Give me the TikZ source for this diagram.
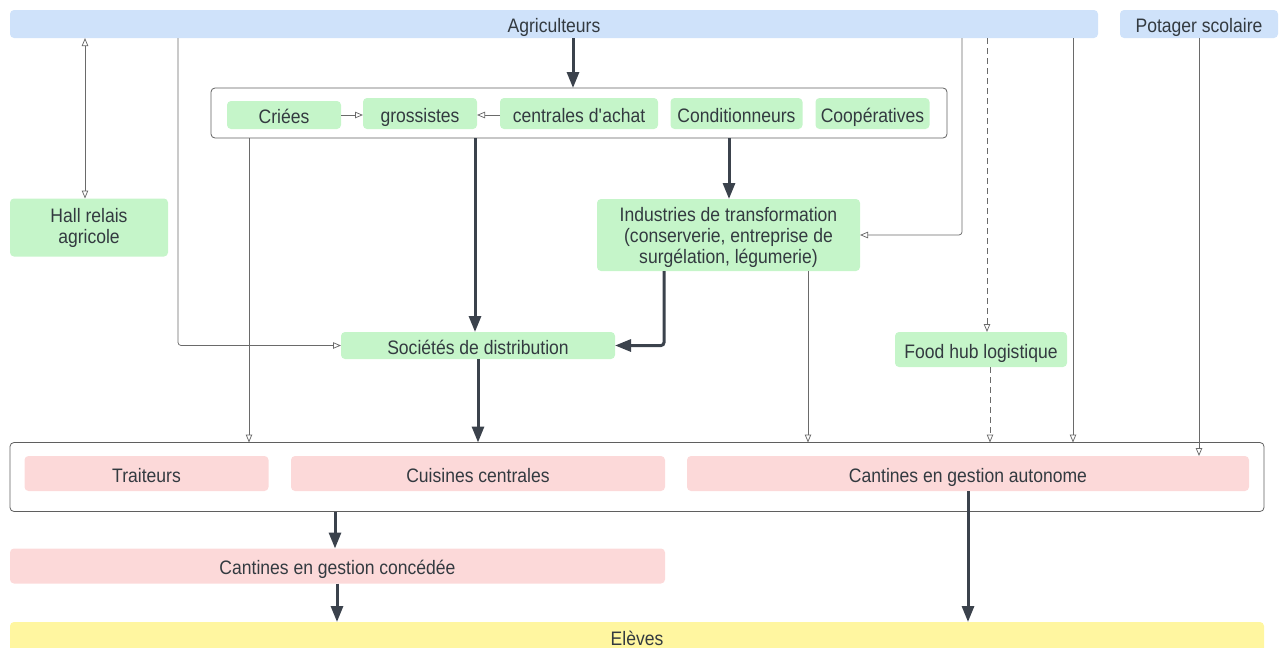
\documentclass[tikz,border=0pt]{standalone}
\usepackage{fontspec}
\setmainfont{Liberation Sans}[FakeStretch=0.9]
\usetikzlibrary{arrows.meta}
\definecolor{cblue}{HTML}{CFE2FA}
\definecolor{cgreen}{HTML}{C5F5C9}
\definecolor{cpink}{HTML}{FCD9D9}
\definecolor{cyellow}{HTML}{FFF6A0}
\definecolor{ctext}{HTML}{333A40}
\definecolor{cdark}{HTML}{3B424C}
\definecolor{cthin}{HTML}{6A6A6A}
\tikzset{
  base/.style={inner sep=0pt, outer sep=0pt, rounded corners=4pt, text=ctext,
    font=\fontsize{19.5}{21}\selectfont, align=center, text height=17pt, text depth=0pt},
  bluebox/.style={base, fill=cblue},
  greenbox/.style={base, fill=cgreen},
  pinkbox/.style={base, fill=cpink},
  yellowbox/.style={base, fill=cyellow},
  groupbox/.style={inner sep=0pt, outer sep=0pt, rounded corners=4pt, draw=cthin!90!black, line width=0.8pt},
  thinarrow/.style={draw=cthin, line width=0.75pt, rounded corners=3pt,
    -{Triangle[open, length=8pt, width=6.5pt]}},
  dashline/.style={dash pattern=on 6pt off 4pt},
  thickarrow/.style={draw=cdark, line width=3pt, rounded corners=3pt,
    -{Triangle[length=16pt, width=12pt]}},
}
\begin{document}
\begin{tikzpicture}[x=1pt, y=-1pt]
\useasboundingbox (0,0) rectangle (1280,648);
% top
\node[bluebox, minimum width=1088pt, minimum height=28pt] (agri) at (554,24) {Agriculteurs};
\node[bluebox, minimum width=158pt, minimum height=28pt] (pot) at (1199,24) {Potager scolaire};
% intermediaries group
\node[groupbox, minimum width=736pt, minimum height=50pt] (inter) at (579,113) {};
\node[greenbox, minimum width=114pt, minimum height=28pt] (criees) at (284,115) {Criées};
\node[greenbox, minimum width=114pt, minimum height=31pt] (gross) at (420,113.5) {grossistes};
\node[greenbox, minimum width=158pt, minimum height=31pt] (centr) at (579,113.5) {centrales d\textquotesingle achat};
\node[greenbox, minimum width=132pt, minimum height=31pt] (cond) at (736.5,113.5) {Conditionneurs};
\node[greenbox, minimum width=114pt, minimum height=31pt] (coop) at (872.5,113.5) {Coopératives};
% middle
\node[greenbox, minimum width=158pt, minimum height=58pt, text height=31pt] (hall) at (89,227.5) {Hall relais\\agricole};
\node[greenbox, minimum width=263pt, minimum height=72pt, text height=56pt] (ind) at (728.5,235) {Industries de transformation\\(conserverie, entreprise de\\surgélation, légumerie)};
\node[greenbox, minimum width=274pt, minimum height=27pt] (soc) at (478,345.5) {Sociétés de distribution};
\node[greenbox, minimum width=172pt, minimum height=35pt] (food) at (981,349.5) {Food hub logistique};
% consumers group
\node[groupbox, minimum width=1254pt, minimum height=69pt] (cont) at (637,477) {};
\node[pinkbox, minimum width=244pt, minimum height=35pt] (trait) at (146.5,473.5) {Traiteurs};
\node[pinkbox, minimum width=374pt, minimum height=35pt] (cuis) at (478,473.5) {Cuisines centrales};
\node[pinkbox, minimum width=562pt, minimum height=35pt] (auto) at (968,473.5) {Cantines en gestion autonome};
\node[pinkbox, minimum width=655pt, minimum height=35pt] (conc) at (337.5,566) {Cantines en gestion concédée};
\node[yellowbox, minimum width=1254pt, minimum height=32pt, text height=14pt] (eleves) at (637,638) {Elèves};
% connectors
\draw[thickarrow] (agri.south -| 573,0) -- (inter.north -| 573,0);
\draw[thinarrow, {Triangle[open, length=8pt, width=6.5pt]}-{Triangle[open, length=8pt, width=6.5pt]}] (agri.south -| 85,0) -- (hall.north -| 85,0);
\draw[thinarrow] (agri.south -| 178,0) |- (soc.west);
\draw[thinarrow] (criees.east) -- (gross.west |- criees.east);
\draw[thinarrow] (centr.west |- criees.east) -- (gross.east |- criees.east);
\draw[thinarrow] (inter.south -| 249,0) -- (cont.north -| 249,0);
\draw[thickarrow] (inter.south -| 475,0) -- (soc.north -| 475,0);
\draw[thickarrow] (inter.south -| 729,0) -- (ind.north -| 729,0);
\draw[thickarrow] (ind.south -| 664,0) |- (soc.east);
\draw[thinarrow] (agri.south -| 962,0) |- (ind.east);
\draw[thinarrow, dashline] (agri.south -| 987,0) -- (food.north -| 987,0);
\draw[thinarrow, dashline] (food.south -| 990,0) -- (cont.north -| 990,0);
\draw[thinarrow] (agri.south -| 1073,0) -- (cont.north -| 1073,0);
\draw[thinarrow] (pot.south -| 1199,0) -- (auto.north -| 1199,0);
\draw[thinarrow] (ind.south -| 808,0) -- (cont.north -| 808,0);
\draw[thickarrow] (soc.south -| 478,0) -- (cont.north -| 478,0);
\draw[thickarrow] (cont.south -| 335,0) -- (conc.north -| 335,0);
\draw[thickarrow] (conc.south -| 337,0) -- (eleves.north -| 337,0);
\draw[thickarrow] (auto.south -| 968,0) -- (eleves.north -| 968,0);
\end{tikzpicture}
\end{document}
